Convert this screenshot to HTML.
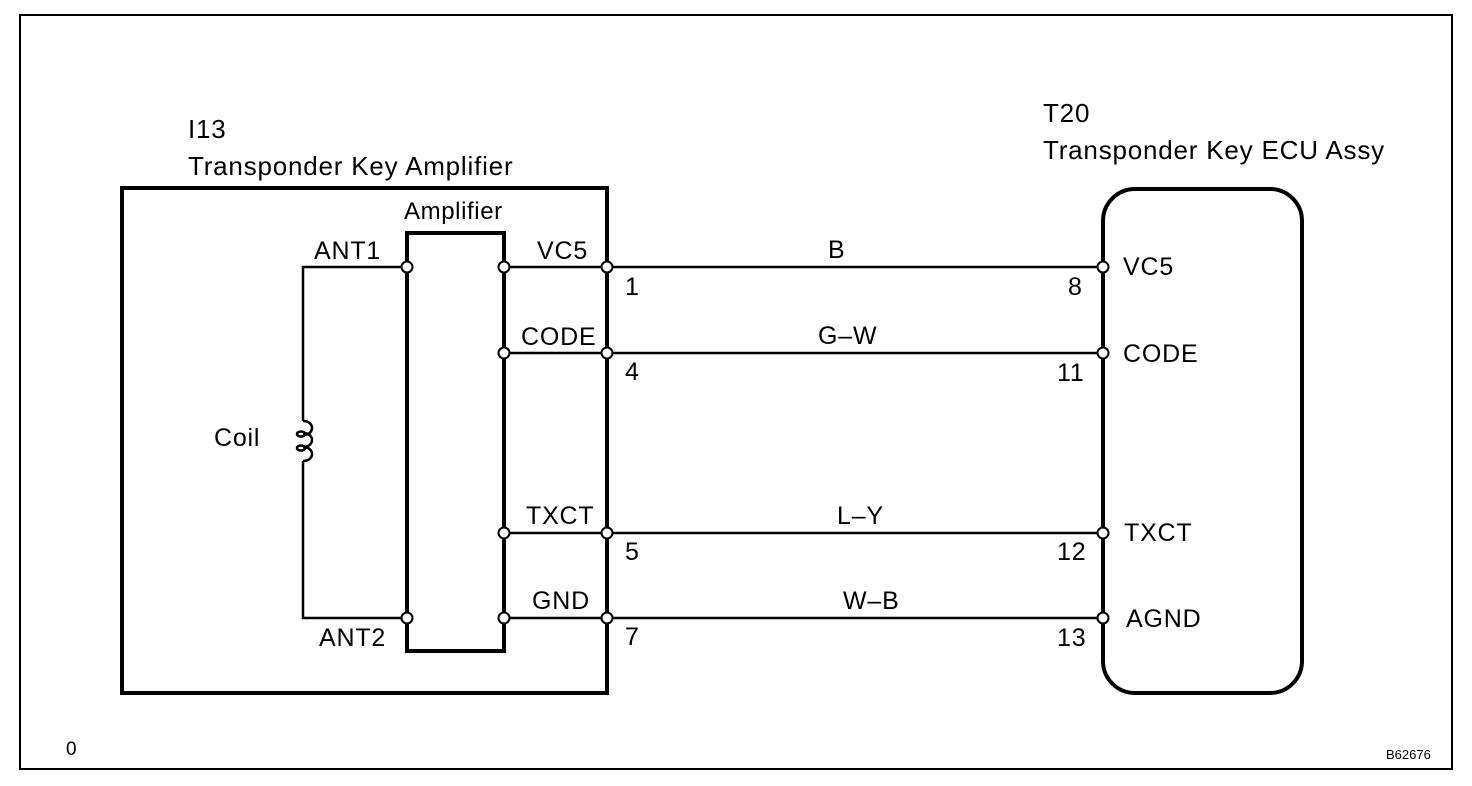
<!DOCTYPE html>
<html><head><style>body{margin:0;background:#fff}svg{display:block}text{font-family:"Liberation Sans",Arial,sans-serif;fill:#000}</style></head>
<body>
<svg width="1472" height="786" viewBox="0 0 1472 786">
<rect x="20" y="15" width="1432" height="754" fill="none" stroke="#000" stroke-width="2"/>
<g font-size="26" letter-spacing="0.8">
<text x="188" y="138">I13</text>
<text x="188" y="175">Transponder Key Amplifier</text>
<text x="1043" y="122">T20</text>
<text x="1043" y="159">Transponder Key ECU Assy</text>
</g>
<rect x="122" y="188" width="485" height="505" fill="none" stroke="#000" stroke-width="4"/>
<rect x="407" y="233" width="97" height="418" fill="none" stroke="#000" stroke-width="4"/>
<text x="404" y="219" font-size="24" letter-spacing="0.6">Amplifier</text>
<rect x="1103" y="189" width="199" height="504" rx="32" fill="none" stroke="#000" stroke-width="4"/>
<g stroke="#000" stroke-width="2.5" fill="none">
<polyline points="407,267 303,267 303,421"/>
<polyline points="303,461 303,618 407,618"/>
<path d="M303,421 c12,0 12,14 0,14 M303,433 c12,0 12,14 0,14 M303,447 c12,0 12,14 0,14"/>
<ellipse cx="301" cy="434" rx="4" ry="2.5"/>
<ellipse cx="301" cy="448" rx="4" ry="2.5"/>
<line x1="504" y1="267" x2="1103" y2="267"/>
<line x1="504" y1="353" x2="1103" y2="353"/>
<line x1="504" y1="533" x2="1103" y2="533"/>
<line x1="504" y1="618" x2="1103" y2="618"/>
</g>
<g fill="#fff" stroke="#000" stroke-width="2">
<circle cx="407" cy="267" r="5.5"/><circle cx="407" cy="618" r="5.5"/>
<circle cx="504" cy="267" r="5.5"/><circle cx="504" cy="353" r="5.5"/><circle cx="504" cy="533" r="5.5"/><circle cx="504" cy="618" r="5.5"/>
<circle cx="607" cy="267" r="5.5"/><circle cx="607" cy="353" r="5.5"/><circle cx="607" cy="533" r="5.5"/><circle cx="607" cy="618" r="5.5"/>
<circle cx="1103" cy="267" r="5.5"/><circle cx="1103" cy="353" r="5.5"/><circle cx="1103" cy="533" r="5.5"/><circle cx="1103" cy="618" r="5.5"/>
</g>
<g font-size="25" letter-spacing="0.8">
<text x="314" y="259">ANT1</text>
<text x="319" y="646">ANT2</text>
<text x="214" y="446">Coil</text>
<text x="537" y="259">VC5</text>
<text x="521" y="345">CODE</text>
<text x="526" y="524">TXCT</text>
<text x="532" y="609">GND</text>
<text x="625" y="295">1</text><text x="625" y="380">4</text><text x="625" y="560">5</text><text x="625" y="645">7</text>
<text x="828" y="258">B</text><text x="818" y="344">G–W</text><text x="837" y="524">L–Y</text><text x="843" y="609">W–B</text>
<text x="1068" y="295">8</text><text x="1057" y="381">11</text><text x="1057" y="560">12</text><text x="1057" y="646">13</text>
<text x="1123" y="275">VC5</text><text x="1123" y="362">CODE</text><text x="1124" y="541">TXCT</text><text x="1126" y="627">AGND</text>
</g>
<text x="66" y="755" font-size="19">0</text>
<text x="1386" y="759" font-size="13">B62676</text>
</svg>
</body></html>
